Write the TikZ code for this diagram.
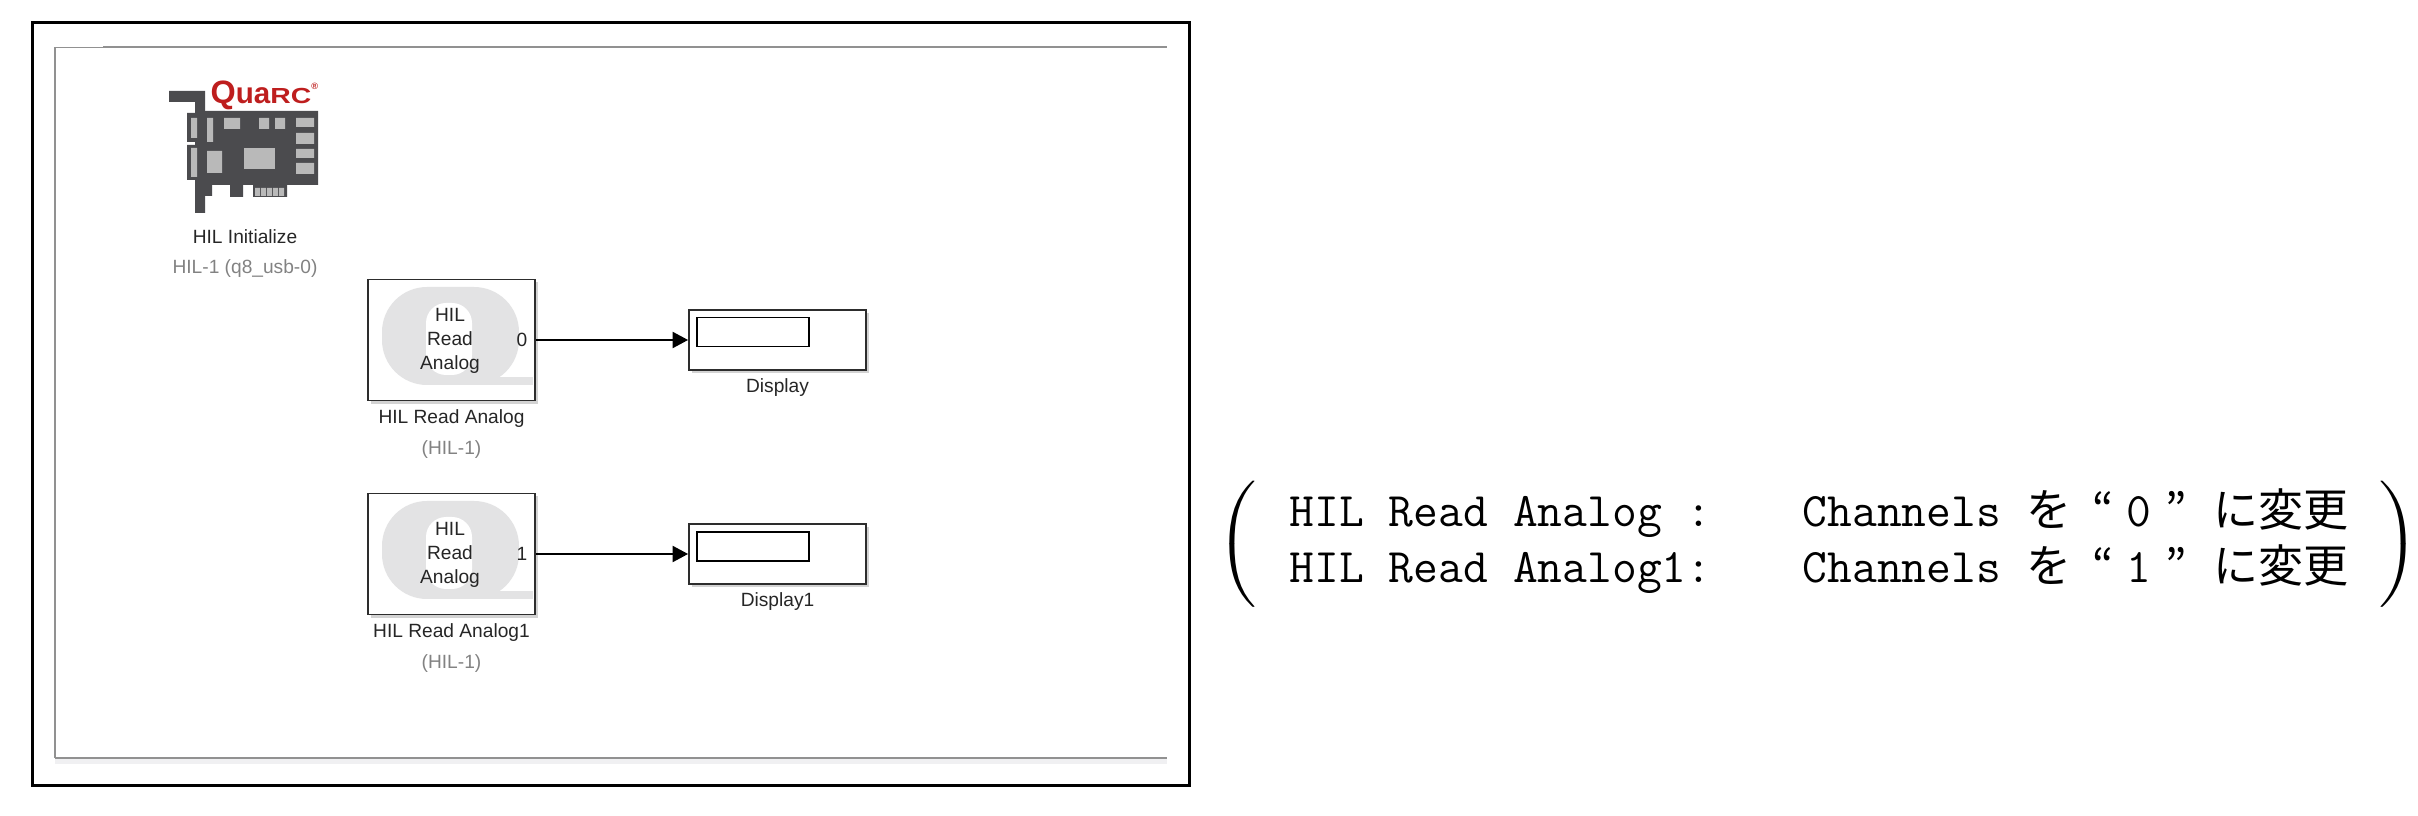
\documentclass[tikz,border=0pt]{standalone}
\usepackage{fontspec}
\setsansfont{Liberation Sans}
\newfontfamily\cjk{Noto Sans CJK JP}
\newcommand{\jp}[1]{{\cjk\fontsize{12.8}{16}\selectfont #1}}
\definecolor{framegray}{RGB}{145, 145, 145}
\definecolor{bandgray}{RGB}{240, 240, 242}
\definecolor{namegray}{RGB}{130, 130, 130}
\definecolor{boardgray}{RGB}{75, 75, 78}
\definecolor{slotgray}{RGB}{185, 185, 185}
\definecolor{quarcred}{RGB}{190, 30, 30}
\definecolor{qgray}{RGB}{227, 227, 228}
\definecolor{blockedge}{RGB}{45, 45, 45}
\usetikzlibrary{positioning, arrows.meta, shadows}

\begin{document}
\begin{tikzpicture}[x=0.01cm, y=-0.01cm,
        label/.style={font=\fontsize{5.45}{6.4}\selectfont\sffamily, text=black!85, inner sep=0pt, align=center},
        sublabel/.style={label, text=namegray},
        readblock/.style={draw=blockedge, fill=white, line width=0.5pt, minimum width=1.67cm, minimum height=1.21cm,
                    inner sep=0pt, drop shadow={shadow xshift=0.03cm, shadow yshift=-0.03cm, opacity=0.35}},
        displayblock/.style={readblock, minimum width=1.77cm, minimum height=0.6cm},
        window/.style={draw=black, fill=white, line width=0.4pt, minimum width=1.12cm, minimum height=0.29cm, inner sep=0pt},
        slot/.style={fill=slotgray},
        note/.style={font=\fontsize{13.7}{16}\selectfont\ttfamily, anchor=base west, inner sep=0pt},
        paren/.style={inner sep=0pt},
        arr/.style={-{Triangle[length=4.4pt, width=4.6pt]}, line width=0.45pt, black}
      ]
        \useasboundingbox (0,0) rectangle (2418,816);
        \node[draw=black, line width=0.75pt, minimum width=11.56cm, minimum height=7.62cm, inner sep=0pt] (frame) at (611,404) {};

        % model window
        \fill[bandgray] (55,758) rectangle (1167,764);
        \draw[framegray, line width=0.3pt] (103,47.5) -- (55,47.5) -- (55,758);
        \draw[framegray, line width=0.8pt] (103,47) -- (1167,47);
        \draw[framegray, line width=0.55pt] (55,758) -- (1167,758);

        % card icon
        \fill[boardgray] (169,91) rectangle (205,102) (195,91) rectangle (205,213);
        \fill[boardgray] (187,113) rectangle (195,142) (187,145) rectangle (195,180);
        \fill[boardgray] (205,111) rectangle (318,185) (205,185) rectangle (212,196);
        \fill[boardgray] (230,185) rectangle (243,197) (253,185) rectangle (287,197);
        \fill[slot] (191,118) rectangle (197,138) (191,148) rectangle (197,177);
        \fill[slot] (207,118) rectangle (213,142) (207,151) rectangle (222,173);
        \fill[slot] (224,118) rectangle (240,129) (259,118) rectangle (269,129) (275,118) rectangle (285,129);
        \fill[slot] (296,118) rectangle (314,127) (296,133) rectangle (314,144);
        \fill[slot] (296,149) rectangle (314,158) (296,163) rectangle (314,174);
        \fill[slot] (244,148) rectangle (275,169);
        \fill[slot] (255,188) rectangle (260,196) (261,188) rectangle (266,196) (267,188) rectangle (272,196) (273,188) rectangle (278,196) (279,188) rectangle (284,196);
        \node[anchor=base west, inner sep=0pt, text=quarcred, font=\sffamily\bfseries\fontsize{8.4}{10}\selectfont] (logo) at (210,104)
          {{\fontsize{9.2}{10}\selectfont Q}ua{\fontsize{6.2}{7}\selectfont\scalebox{1.3}[1]{RC}}\raisebox{4pt}{\fontsize{2.6}{3}\selectfont ®}};
        \node[label] (hil) at (245,237) {HIL Initialize};
        \node[sublabel, below=0.145cm of hil] (hilsub) {HIL-1 (q8\_usb-0)};

        % first row
        \node[readblock] (read0) at (451.5,340) {};
        \fill[qgray, rounded corners=0.45cm] (382,287) rectangle (519,385);
        \fill[qgray] (470,377) rectangle (533,385);
        \fill[white, rounded corners=0.2cm] (426,303) rectangle (472,375);
        \node[label] (name0) at (450,341) {HIL\\[0.4pt]Read\\[0.4pt]Analog};
        \node[label] (port0) at (522,340) {0};
        \node[displayblock] (disp0) at (777.5,340) {};
        \node[window] (win0) at (753,332) {};
        \draw[arr] (read0)--(disp0);
        \node[label, below=0.07cm of read0] (lab0) {HIL Read Analog};
        \node[sublabel, below=0.12cm of lab0] (sub0) {(HIL-1)};
        \node[label, below=0.07cm of disp0] (dlab0) {Display};

        % second row
        \node[readblock] (read1) at (451.5,554) {};
        \fill[qgray, rounded corners=0.45cm] (382,501) rectangle (519,599);
        \fill[qgray] (470,591) rectangle (533,599);
        \fill[white, rounded corners=0.2cm] (426,517) rectangle (472,589);
        \node[label] (name1) at (450,555) {HIL\\[0.4pt]Read\\[0.4pt]Analog};
        \node[label] (port1) at (522,554) {1};
        \node[displayblock] (disp1) at (777.5,554) {};
        \node[window] (win1) at (753,546.5) {};
        \draw[arr] (read1)--(disp1);
        \node[label, below=0.07cm of read1] (lab1) {HIL Read Analog1};
        \node[sublabel, below=0.12cm of lab1] (sub1) {(HIL-1)};
        \node[label, below=0.07cm of disp1] (dlab1) {Display1};

        % settings
        \node[paren] (lparen) at (1239,544) {\scalebox{1.3}[1]{$\left(\vcenter to 36pt{\vfil}\right.$}};
        \node[paren] (rparen) at (2397,544) {\scalebox{1.3}[1]{$\left.\vcenter to 36pt{\vfil}\right)$}};
        \node[note] (key0) at (1289,527) {HIL Read Analog :};
        \node[note] (key1) at (1289,583) {HIL Read Analog1:};
        \node[note] (val0) at (1802,527) {Channels \jp{を}\hspace{6pt}\jp{“}\hspace{3.8pt}0\hspace{4pt}\jp{”}\hspace{7.6pt}\jp{に変更}};
        \node[note] (val1) at (1802,583) {Channels \jp{を}\hspace{6pt}\jp{“}\hspace{3.8pt}1\hspace{4pt}\jp{”}\hspace{7.6pt}\jp{に変更}};
      \end{tikzpicture}
\end{document}
